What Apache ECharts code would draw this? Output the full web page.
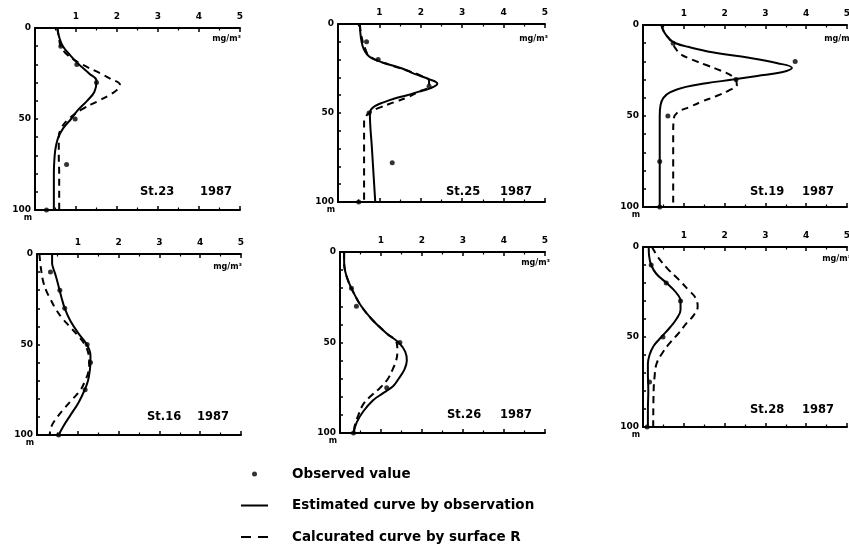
<!DOCTYPE html>
<html><head><meta charset="utf-8">
<script src="https://cdn.jsdelivr.net/npm/echarts@6/dist/echarts.min.js"></script>
<style>html,body{margin:0;padding:0;background:#fff}#c{width:849px;height:548px}</style>
</head><body><div id="c"></div>
<script>
// ---------------- DATA ----------------
const stationNames = ['St.23', 'St.25', 'St.19', 'St.16', 'St.26', 'St.28'];
const stationYear = '1987';
const concTickLabels = ['', '1', '2', '3', '4', '5'];
const depthTickLabels = [0, 50, 100];
const unitLabel = 'mg/m³';
const depthUnit = 'm';
const legendNames = ['Observed value', 'Estimated curve by observation', 'Calcurated curve by surface R'];

// St.23
const st23EstDepth = [0, 5, 10, 15, 20, 25, 29, 35, 40, 45, 50, 55, 60, 65, 70, 80, 90, 100];
const st23EstConc = [0.54, 0.59, 0.68, 0.86, 1.07, 1.32, 1.5, 1.45, 1.27, 1.05, 0.88, 0.69, 0.57, 0.51, 0.48, 0.46, 0.46, 0.46];
const st23CalDepth = [0, 5, 10, 15, 20, 25, 28, 31, 34, 37, 40, 45, 50, 55, 60, 70, 80, 90, 100];
const st23CalConc = [0.55, 0.58, 0.63, 0.8, 1.15, 1.6, 1.85, 2.07, 2.0, 1.8, 1.55, 1.12, 0.82, 0.64, 0.58, 0.58, 0.59, 0.59, 0.59];
const st23ObsDepth = [10, 20, 30, 50, 75, 100];
const st23ObsConc = [0.63, 1.02, 1.5, 0.98, 0.77, 0.28];

// St.25
const st25EstDepth = [0, 5, 10, 14, 17, 19, 21, 23, 25, 28, 31, 33.5, 36, 38, 40, 42, 44, 46, 48, 50, 70, 100];
const st25EstConc = [0.53, 0.54, 0.57, 0.62, 0.7, 0.8, 1.0, 1.27, 1.55, 1.85, 2.2, 2.4, 2.24, 1.95, 1.67, 1.35, 1.1, 0.9, 0.8, 0.77, 0.82, 0.9];
const st25CalDepth = [0, 5, 10, 14, 17, 20, 23, 26, 29, 32, 35, 38, 41, 44, 47, 50, 53, 56, 60, 80, 100];
const st25CalConc = [0.53, 0.55, 0.6, 0.66, 0.72, 0.9, 1.25, 1.65, 2.0, 2.2, 2.2, 1.95, 1.7, 1.35, 1.0, 0.75, 0.65, 0.63, 0.63, 0.63, 0.63];
const st25ObsDepth = [10, 20, 35, 50, 78, 100];
const st25ObsConc = [0.69, 0.97, 2.2, 0.75, 1.31, 0.5];

// St.19
const st19EstDepth = [0, 4, 8, 10, 12, 15, 18, 21, 23.5, 26, 28, 30, 32, 34, 37, 40, 44, 50, 75, 100];
const st19EstConc = [0.45, 0.52, 0.66, 0.8, 1.1, 1.7, 2.6, 3.3, 3.65, 3.4, 2.8, 2.2, 1.55, 1.05, 0.66, 0.5, 0.43, 0.41, 0.41, 0.41];
const st19CalDepth = [0, 4, 8, 10, 13, 16, 19, 22, 25, 28, 30.5, 33, 36, 39, 42, 45, 48, 52, 60, 100];
const st19CalConc = [0.45, 0.52, 0.66, 0.72, 0.8, 0.92, 1.2, 1.55, 1.9, 2.18, 2.28, 2.3, 2.1, 1.8, 1.45, 1.15, 0.85, 0.75, 0.74, 0.74];
const st19ObsDepth = [10, 20, 30, 50, 75, 100];
const st19ObsConc = [0.74, 3.73, 2.28, 0.61, 0.41, 0.41];

// St.16
const st16EstDepth = [0, 5, 8, 12, 18, 24, 30, 37, 44, 50, 56, 60, 65, 70, 75, 82, 89, 95, 100];
const st16EstConc = [0.37, 0.37, 0.4, 0.46, 0.53, 0.6, 0.68, 0.82, 1.02, 1.22, 1.31, 1.31, 1.29, 1.25, 1.17, 1.02, 0.82, 0.65, 0.53];
const st16CalDepth = [0, 5, 10, 15, 20, 25, 30, 35, 40, 45, 50, 55, 60, 65, 70, 75, 80, 85, 90, 95, 100];
const st16CalConc = [0.06, 0.08, 0.11, 0.15, 0.22, 0.33, 0.45, 0.6, 0.8, 1.0, 1.17, 1.26, 1.28, 1.26, 1.18, 1.07, 0.88, 0.68, 0.5, 0.36, 0.31];
const st16ObsDepth = [10, 20, 30, 50, 60, 75, 100];
const st16ObsConc = [0.33, 0.56, 0.68, 1.23, 1.31, 1.18, 0.53];

// St.26
const st26EstDepth = [0, 5, 10, 16, 22, 30, 38, 45, 50, 55, 60, 65, 70, 74, 78, 82, 88, 94, 100];
const st26EstConc = [0.1, 0.1, 0.12, 0.2, 0.32, 0.52, 0.81, 1.14, 1.43, 1.59, 1.63, 1.57, 1.43, 1.3, 1.05, 0.8, 0.57, 0.41, 0.33];
const st26CalDepth = [0, 5, 10, 16, 22, 30, 38, 45, 50, 55, 60, 64, 70, 75, 80, 84, 90, 95, 100];
const st26CalConc = [0.1, 0.1, 0.12, 0.2, 0.32, 0.52, 0.81, 1.14, 1.38, 1.4, 1.37, 1.3, 1.17, 0.98, 0.73, 0.57, 0.45, 0.37, 0.33];
const st26ObsDepth = [20, 30, 50, 75, 100];
const st26ObsConc = [0.28, 0.4, 1.46, 1.14, 0.33];

// St.28
const st28EstDepth = [0, 5, 10, 15, 20, 25, 30, 35, 40, 45, 50, 55, 60, 65, 70, 80, 90, 100];
const st28EstConc = [0.14, 0.15, 0.2, 0.33, 0.58, 0.8, 0.92, 0.92, 0.82, 0.65, 0.45, 0.26, 0.16, 0.12, 0.12, 0.13, 0.12, 0.12];
const st28CalDepth = [0, 6, 12, 18, 24, 28, 33, 38, 42, 48, 53, 59, 65, 73, 80, 100];
const st28CalConc = [0.22, 0.38, 0.6, 0.87, 1.12, 1.28, 1.34, 1.24, 1.08, 0.87, 0.67, 0.47, 0.33, 0.28, 0.26, 0.25];
const st28ObsDepth = [10, 20, 30, 50, 75, 100];
const st28ObsConc = [0.2, 0.57, 0.92, 0.49, 0.16, 0.1];

// ---------------- LAYOUT ----------------
const FONT = 'DejaVu Sans';
const panelData = [
  [st23EstDepth, st23EstConc, st23CalDepth, st23CalConc, st23ObsDepth, st23ObsConc],
  [st25EstDepth, st25EstConc, st25CalDepth, st25CalConc, st25ObsDepth, st25ObsConc],
  [st19EstDepth, st19EstConc, st19CalDepth, st19CalConc, st19ObsDepth, st19ObsConc],
  [st16EstDepth, st16EstConc, st16CalDepth, st16CalConc, st16ObsDepth, st16ObsConc],
  [st26EstDepth, st26EstConc, st26CalDepth, st26CalConc, st26ObsDepth, st26ObsConc],
  [st28EstDepth, st28EstConc, st28CalDepth, st28CalConc, st28ObsDepth, st28ObsConc]
];
const layout = [
  {left: 35, top: 28, width: 205, height: 182, stX: 140, yrX: 200, labY: 192, unitR: 241, unitY: 39},
  {left: 338, top: 24, width: 207, height: 178, stX: 446, yrX: 500, labY: 192, unitR: 548, unitY: 39},
  {left: 643, top: 25, width: 204, height: 182, stX: 750, yrX: 802, labY: 192, unitR: 853, unitY: 39},
  {left: 37, top: 254, width: 204, height: 181, stX: 147, yrX: 197, labY: 417, unitR: 242, unitY: 267},
  {left: 340, top: 252, width: 205, height: 181, stX: 447, yrX: 500, labY: 415, unitR: 550, unitY: 263},
  {left: 643, top: 247, width: 204, height: 180, stX: 750, yrX: 802, labY: 410, unitR: 851, unitY: 259}
];

const pairs = (xs, ys) => xs.map((x, i) => [x, ys[i]]);
const black = '#000';
const grids = [], xAxes = [], yAxes = [], series = [], graphics = [];

layout.forEach((L, i) => {
  grids.push({left: L.left, top: L.top, width: L.width, height: L.height, containLabel: false, outerBoundsMode: 'none'});
  const tickCommon = {
    gridIndex: i, type: 'value', min: 0, max: 5, interval: 1,
    axisLine: {show: true, onZero: false, lineStyle: {color: black, width: 2}},
    axisTick: {show: true, inside: true, length: 4, lineStyle: {color: black, width: 1.5}},
    minorTick: {show: true, splitNumber: 2, length: 2.5, lineStyle: {color: black, width: 1.2}},
    splitLine: {show: false}, minorSplitLine: {show: false}
  };
  xAxes.push(Object.assign({}, tickCommon, {
    position: 'top',
    axisLabel: {show: true, margin: 7, fontSize: 9, fontWeight: 'bold', fontFamily: FONT, color: black,
      formatter: v => concTickLabels[Math.round(v)] || ''}
  }));
  xAxes.push(Object.assign({}, tickCommon, {position: 'bottom', axisLabel: {show: false}}));
  yAxes.push({
    gridIndex: i, type: 'value', min: 0, max: 100, interval: 10, inverse: true, position: 'left',
    axisLine: {show: true, onZero: false, lineStyle: {color: black, width: 2}},
    axisTick: {show: true, inside: true, length: 3, lineStyle: {color: black, width: 1.5}},
    axisLabel: {show: true, margin: 4, fontSize: 9, fontWeight: 'bold', fontFamily: FONT, color: black,
      formatter: v => depthTickLabels.includes(v) ? String(v) : ''},
    splitLine: {show: false}
  });
  const d = panelData[i];
  series.push({
    name: legendNames[1], type: 'line', xAxisIndex: 2 * i, yAxisIndex: i,
    data: pairs(d[1], d[0]), smooth: 0.4, showSymbol: false, symbol: 'none',
    lineStyle: {color: black, width: 2}, itemStyle: {color: black}, z: 3
  });
  series.push({
    name: legendNames[2], type: 'line', xAxisIndex: 2 * i, yAxisIndex: i,
    data: pairs(d[3], d[2]), smooth: 0.4, showSymbol: false, symbol: 'none',
    lineStyle: {color: black, width: 2, type: [7, 5]}, itemStyle: {color: black}, z: 2
  });
  series.push({
    name: legendNames[0], type: 'scatter', xAxisIndex: 2 * i, yAxisIndex: i,
    data: pairs(d[5], d[4]), symbol: 'circle', symbolSize: 5,
    itemStyle: {color: black}, z: 4
  });
  const tStyle = (size) => ({fill: black, fontSize: size, fontWeight: 'bold', fontFamily: FONT});
  graphics.push({type: 'text', left: L.stX, top: L.labY - 6, style: Object.assign({text: stationNames[i]}, tStyle(11.5))});
  graphics.push({type: 'text', left: L.yrX, top: L.labY - 6, style: Object.assign({text: stationYear}, tStyle(11.5))});
  graphics.push({type: 'text', x: L.unitR, y: L.unitY, style: Object.assign({text: unitLabel, align: 'right', verticalAlign: 'middle'}, tStyle(8))});
  graphics.push({type: 'text', x: L.left - 7, y: L.top + L.height + 8, style: Object.assign({text: depthUnit, align: 'center', verticalAlign: 'middle'}, tStyle(8))});
});

const transparent = 'rgba(0,0,0,0)';
const chart = echarts.init(document.getElementById('c'), null, {renderer: 'canvas'});
chart.setOption({
  animation: false,
  backgroundColor: '#fff',
  grid: grids, xAxis: xAxes, yAxis: yAxes, series: series,
  graphic: graphics,
  legend: {
    orient: 'vertical', left: 240, top: 467, padding: 0, itemWidth: 27, itemHeight: 5, itemGap: 17.5,
    selectedMode: false,
    textStyle: {fontSize: 13.5, fontWeight: 'bold', fontFamily: FONT, color: black, padding: [0, 0, 0, 19]},
    data: [
      {name: legendNames[0], icon: 'circle'},
      {name: legendNames[1], itemStyle: {color: transparent, borderWidth: 0, borderColor: transparent}, lineStyle: {width: 2}},
      {name: legendNames[2], itemStyle: {color: transparent, borderWidth: 0, borderColor: transparent}, lineStyle: {type: [10, 7], width: 2}}
    ]
  }
});
</script></body></html>
